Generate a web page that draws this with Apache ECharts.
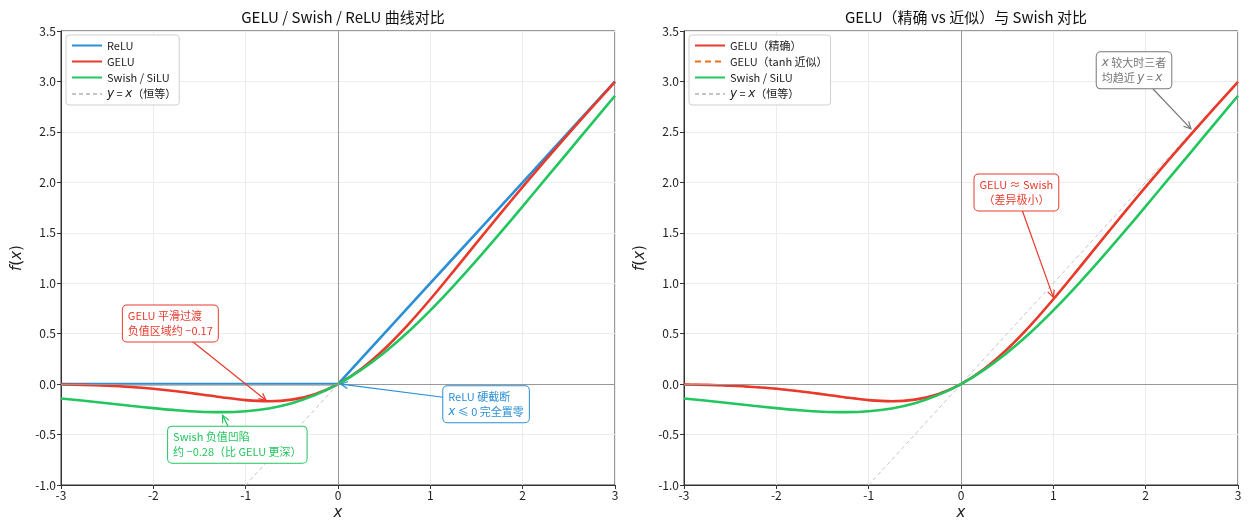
<!DOCTYPE html>
<html>
<head>
<meta charset="utf-8">
<script src="https://cdn.jsdelivr.net/npm/echarts@6/dist/echarts.min.js"></script>
<style>
  html, body { margin: 0; padding: 0; background: #fff; }
  #main { width: 1251px; height: 531px; }
</style>
</head>
<body>
<div id="main"></div>
<script>
// 横轴采样点
var xs = [-3, -2.75, -2.5, -2.25, -2, -1.75, -1.5, -1.25, -1, -0.75, -0.5, -0.25, 0,
          0.25, 0.5, 0.75, 1, 1.25, 1.5, 1.75, 2, 2.25, 2.5, 2.75, 3];
// 读图得到的曲线值
var reluVals = [0, 0, 0, 0, 0, 0, 0, 0, 0, 0, 0, 0, 0,
                0.25, 0.5, 0.75, 1, 1.25, 1.5, 1.75, 2, 2.25, 2.5, 2.75, 3];
var geluVals = [-0.004, -0.008, -0.016, -0.028, -0.046, -0.070, -0.100, -0.132, -0.159, -0.170, -0.154, -0.100, 0,
                0.150, 0.346, 0.580, 0.841, 1.118, 1.400, 1.680, 1.955, 2.223, 2.485, 2.742, 2.996];
var geluTanhVals = [-0.004, -0.008, -0.016, -0.028, -0.045, -0.070, -0.100, -0.132, -0.159, -0.170, -0.154, -0.100, 0,
                0.150, 0.346, 0.580, 0.841, 1.118, 1.400, 1.680, 1.955, 2.223, 2.485, 2.742, 2.996];
var swishVals = [-0.142, -0.165, -0.190, -0.215, -0.238, -0.259, -0.274, -0.278, -0.269, -0.241, -0.189, -0.109, 0,
                 0.141, 0.311, 0.509, 0.731, 0.972, 1.226, 1.491, 1.762, 2.036, 2.310, 2.585, 2.858];
var identVals = [-3, -2.75, -2.5, -2.25, -2, -1.75, -1.5, -1.25, -1, -0.75, -0.5, -0.25, 0,
                 0.25, 0.5, 0.75, 1, 1.25, 1.5, 1.75, 2, 2.25, 2.5, 2.75, 3];

var xTicks = [-3, -2, -1, 0, 1, 2, 3];
var yTicks = [-1.0, -0.5, 0.0, 0.5, 1.0, 1.5, 2.0, 2.5, 3.0, 3.5];

var FONT = '"Noto Sans CJK SC", "Liberation Sans", sans-serif';
var MATH = '"DejaVu Sans", sans-serif';
var C_RELU = '#2b8fd6', C_GELU = '#e8392b', C_TANH = '#f07018', C_SWISH = '#22c55e', C_ID = '#c4c4c4';

function pts(vals) {
    return xs.map(function (x, i) { return [x, vals[i]]; });
}

var chart = echarts.init(document.getElementById('main'));

function makeX(idx) {
    return {
        type: 'value', gridIndex: idx, min: xTicks[0], max: xTicks[xTicks.length - 1], interval: 1,
        name: '{i|x}', nameLocation: 'middle', nameGap: 20,
        nameTextStyle: { rich: { i: { fontStyle: 'italic', fontSize: 15, fontFamily: MATH, color: '#222' } } },
        axisLine: { onZero: false, lineStyle: { color: '#333', width: 1 } },
        axisTick: { show: true, length: 4, lineStyle: { color: '#333' } },
        axisLabel: { color: '#222', fontSize: 12, fontFamily: FONT, margin: 4 },
        splitLine: { show: true, lineStyle: { color: '#ececec', width: 1 } }
    };
}
function makeY(idx) {
    return {
        type: 'value', gridIndex: idx, min: yTicks[0], max: yTicks[yTicks.length - 1], interval: 0.5,
        name: '{i|f}({i|x})', nameLocation: 'middle', nameGap: 36, nameRotate: 90,
        nameTextStyle: { fontSize: 15, fontFamily: MATH, color: '#222',
            rich: { i: { fontStyle: 'italic', fontSize: 15, fontFamily: MATH, color: '#222' } } },
        axisLine: { show: true, onZero: false, lineStyle: { color: '#333', width: 1 } },
        axisTick: { show: true, length: 4, lineStyle: { color: '#333' } },
        axisLabel: { color: '#222', fontSize: 12, fontFamily: FONT, margin: 5,
            formatter: function (v) { return v.toFixed(1); } },
        splitLine: { show: true, lineStyle: { color: '#ececec', width: 1 } }
    };
}

function line(name, vals, color, idx, extra) {
    var s = {
        name: name, type: 'line', xAxisIndex: idx, yAxisIndex: idx,
        data: pts(vals), smooth: 0.3, symbol: 'none', showSymbol: false,
        lineStyle: { color: color, width: 2.6 }, itemStyle: { color: color },
        emphasis: { disabled: true }, silent: true, z: 3
    };
    for (var k in extra) s[k] = extra[k];
    return s;
}

var zeroLines = {
    silent: true, symbol: 'none', label: { show: false },
    lineStyle: { color: '#999', width: 1, type: 'solid' },
    data: [{ xAxis: 0 }, { yAxis: 0 }]
};

var identName = 'y = x（恒等）';
var legendText = {
    fontSize: 11, fontFamily: FONT, color: '#222',
    rich: { i: { fontStyle: 'italic', fontSize: 12, fontFamily: MATH, color: '#222' } }
};
function legendFmt(n) {
    return n === identName ? '{i|y} = {i|x}（恒等）' : n;
}
var legendBase = {
    orient: 'vertical', top: 35, itemWidth: 30, itemHeight: 10, itemGap: 5,
    padding: [5, 3, 5, 5], borderColor: '#cfcfcf', borderWidth: 1, borderRadius: 3,
    backgroundColor: '#fff', textStyle: legendText, formatter: legendFmt, selectedMode: false,
    itemStyle: { color: 'rgba(0,0,0,0)', borderWidth: 0, opacity: 0 }
};

chart.setOption({
    animation: false,
    title: [
        { text: 'GELU / Swish / ReLU 曲线对比', left: 338, top: 5, textAlign: 'center',
          textStyle: { fontSize: 15, fontWeight: 'normal', color: '#111', fontFamily: FONT } },
        { text: 'GELU（精确 vs 近似）与 Swish 对比', left: 961, top: 5, textAlign: 'center',
          textStyle: { fontSize: 15, fontWeight: 'normal', color: '#111', fontFamily: FONT } }
    ],
    legend: [
        Object.assign({ left: 66, data: ['ReLU', 'GELU', 'Swish / SiLU', identName] }, legendBase),
        Object.assign({ left: 689, data: ['GELU（精确）', 'GELU（tanh 近似）', 'Swish / SiLU', identName] }, legendBase)
    ],
    grid: [
        { left: 61, right: 636, top: 31, bottom: 46, show: true, borderColor: '#333', borderWidth: 1 },
        { left: 684, right: 13, top: 31, bottom: 46, show: true, borderColor: '#333', borderWidth: 1 }
    ],
    xAxis: [makeX(0), makeX(1)],
    yAxis: [makeY(0), makeY(1)],
    series: [
        line(identName, identVals, C_ID, 0, { smooth: false, z: 2,
            lineStyle: { color: C_ID, width: 1, type: [4, 3] }, markLine: zeroLines }),
        line('ReLU', reluVals, C_RELU, 0, { smooth: false }),
        line('GELU', geluVals, C_GELU, 0),
        line('Swish / SiLU', swishVals, C_SWISH, 0),

        line(identName, identVals, C_ID, 1, { smooth: false, z: 2,
            lineStyle: { color: C_ID, width: 1, type: [4, 3] }, markLine: zeroLines }),
        line('GELU（tanh 近似）', geluTanhVals, C_TANH, 1, { z: 3,
            lineStyle: { color: C_TANH, width: 1.8, type: [6, 4] } }),
        line('GELU（精确）', geluVals, C_GELU, 1, { z: 4 }),
        line('Swish / SiLU', swishVals, C_SWISH, 1, { z: 5 })
    ]
});

// 注释：文字框 + 箭头；at 为文字框左缘（center 时为中点）的数据坐标
var notes = [
    { g: 0, text: 'GELU 平滑过渡\n负值区域约 −0.17', at: [-2.33, 0.60], from: [-1.60, 0.44], to: [-0.78, -0.16], color: C_GELU, align: 'left' },
    { g: 0, text: 'Swish 负值凹陷\n约 −0.28（比 GELU 更深）', at: [-1.84, -0.60], from: [-1.17, -0.455], to: [-1.25, -0.31], color: C_SWISH, align: 'left' },
    { g: 0, text: 'ReLU 硬截断\n{i|x} ≤ 0 完全置零', at: [1.14, -0.20], from: [1.14, -0.13], to: [0.03, 0.0], color: C_RELU, align: 'left' },
    { g: 1, text: 'GELU ≈ Swish\n（差异极小）', at: [0.60, 1.90], from: [0.65, 1.755], to: [1.0, 0.86], color: C_GELU, align: 'center' },
    { g: 1, text: '{i|x} 较大时三者\n均趋近 {i|y} = {i|x}', at: [1.47, 3.11], from: [2.07, 2.935], to: [2.49, 2.53], color: '#777', align: 'left' }
];

function arrowEls(p0, p1, color) {
    var dx = p1[0] - p0[0], dy = p1[1] - p0[1];
    var len = Math.sqrt(dx * dx + dy * dy), ux = dx / len, uy = dy / len;
    var h = 7, w = 3.5;
    var a = [p1[0] - ux * h - uy * w, p1[1] - uy * h + ux * w];
    var b = [p1[0] - ux * h + uy * w, p1[1] - uy * h - ux * w];
    return [
        { type: 'line', silent: true, z: 20, shape: { x1: p0[0], y1: p0[1], x2: p1[0], y2: p1[1] },
          style: { stroke: color, lineWidth: 1.2 } },
        { type: 'polyline', silent: true, z: 20, shape: { points: [a, p1, b] },
          style: { stroke: color, lineWidth: 1.2, fill: null } }
    ];
}

var els = [];
notes.forEach(function (n) {
    var c = chart.convertToPixel({ gridIndex: n.g }, n.at);
    var p0 = chart.convertToPixel({ gridIndex: n.g }, n.from);
    var p1 = chart.convertToPixel({ gridIndex: n.g }, n.to);
    els = els.concat(arrowEls(p0, p1, n.color));
    els.push({
        type: 'text', silent: true, z: 30, x: c[0], y: c[1],
        style: {
            text: n.text, fill: n.color, font: '11px ' + FONT, lineHeight: 15,
            align: n.align, verticalAlign: 'middle',
            backgroundColor: '#fff', borderColor: n.color, borderWidth: 1, borderRadius: 4,
            padding: [3, 5],
            rich: { i: { fontStyle: 'italic', fill: n.color, fontSize: 12, fontFamily: MATH, lineHeight: 15 } }
        }
    });
});
chart.setOption({ graphic: els });
</script>
</body>
</html>
